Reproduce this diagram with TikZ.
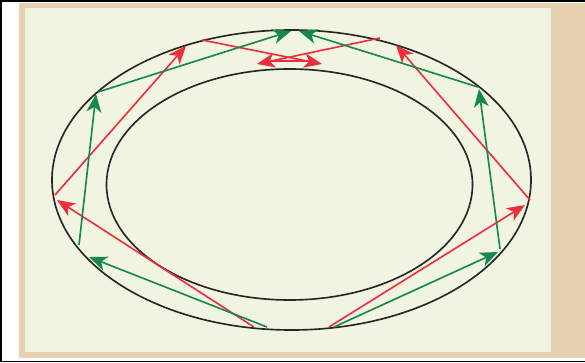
\documentclass[tikz,border=0pt]{standalone}
\usetikzlibrary{arrows.meta}

\definecolor{cream}{HTML}{F1F4E0}
\definecolor{tanband}{HTML}{E6D1B1}
\definecolor{rayred}{HTML}{EC2F3C}
\definecolor{raygreen}{HTML}{16894A}

\begin{document}
\begin{tikzpicture}[
  x=0.03cm, y=-0.03cm,
  wall/.style={draw=black!85, line width=1.4pt},
  redray/.style={-{Stealth[length=5.4mm, width=4.4mm, inset=1.5mm]}, line width=1.4pt, draw=rayred},
  greenray/.style={-{Stealth[length=5.4mm, width=4.4mm, inset=1.5mm]}, line width=1.4pt, draw=raygreen}
]
\useasboundingbox (0,0) rectangle (585,363);

\fill[white] (0,0) rectangle (585,363);
\fill[tanband] (19,3) rectangle (585,358);
\fill[cream] (25,8) rectangle (551,352);
\draw[line width=1.6pt] (585,1) -- (1,1) -- (1,361.5) -- (585,361.5);

\draw[wall] (291.5,180) ellipse [x radius=239.5, y radius=150];
\draw[wall] (289.5,184.5) ellipse [x radius=183, y radius=115.5];

\coordinate (rStartL) at (254,327);
\coordinate (rWallL) at (57,200);
\coordinate (rOutL) at (55,195);
\coordinate (rTopL) at (186,46);
\coordinate (rTopOutL) at (202,40);
\coordinate (rTipR) at (322,64);

\coordinate (rStartR) at (329,327);
\coordinate (rWallR) at (525,205);
\coordinate (rOutR) at (530,200);
\coordinate (rTopR) at (396,45);
\coordinate (rTopOutR) at (380,38);
\coordinate (rTipL) at (257,64);

\coordinate (gStartL) at (267,327);
\coordinate (gLowL) at (89,257);
\coordinate (gLowOutL) at (79,245);
\coordinate (gUpL) at (96,94);
\coordinate (gUpOutL) at (98,92);
\coordinate (gTopL) at (291,31);

\coordinate (gStartR) at (334,327);
\coordinate (gLowR) at (498,252);
\coordinate (gLowOutR) at (500,249);
\coordinate (gUpR) at (479,89);
\coordinate (gUpOutR) at (478,87);
\coordinate (gTopR) at (299,31);

\draw[redray] (rStartL) -- (rWallL);
\draw[redray] (rOutL) -- (rTopL);
\draw[redray] (rTopOutL) -- (rTipR);
\draw[redray] (rStartR) -- (rWallR);
\draw[redray] (rOutR) -- (rTopR);
\draw[redray] (rTopOutR) -- (rTipL);
\draw[line width=1.3pt, draw=rayred] ([shift={(14,-3)}]rTipL) -- ([shift={(-14,-3)}]rTipR);

\draw[greenray] (gStartL) -- (gLowL);
\draw[greenray] (gLowOutL) -- (gUpL);
\draw[greenray] (gUpOutL) -- (gTopL);
\draw[greenray] (gStartR) -- (gLowR);
\draw[greenray] (gLowOutR) -- (gUpR);
\draw[greenray] (gUpOutR) -- (gTopR);

\end{tikzpicture}
\end{document}
